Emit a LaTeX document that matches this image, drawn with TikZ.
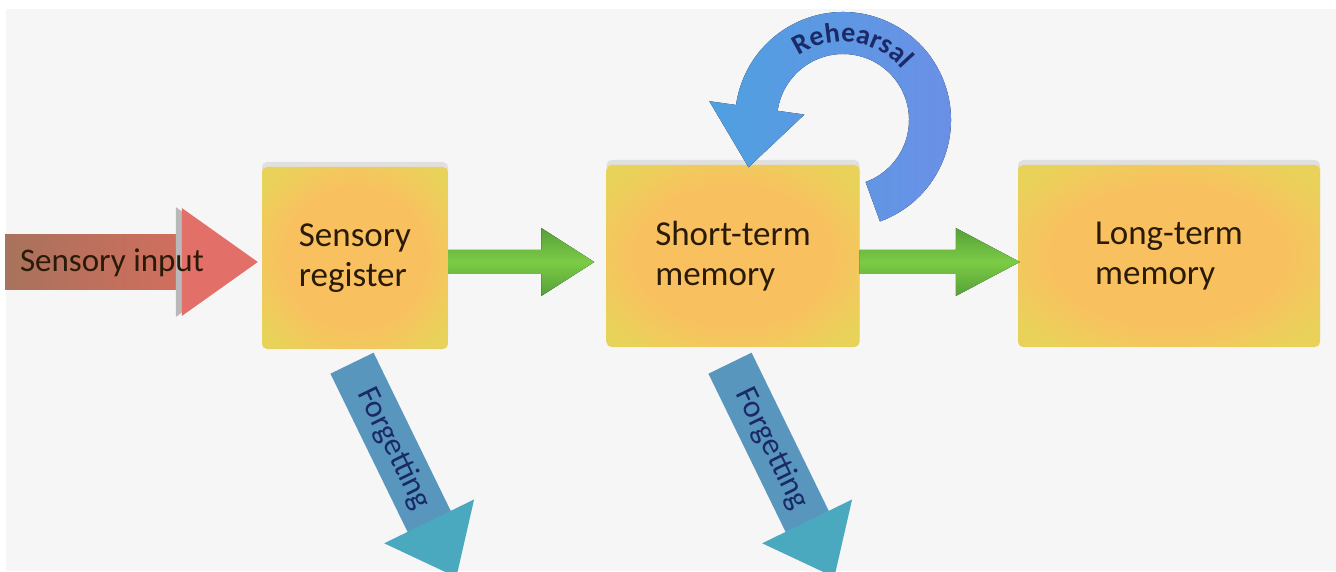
\documentclass[tikz,border=0pt]{standalone}
\usepackage{fontspec}
\setmainfont{Carlito}
\usetikzlibrary{calc,decorations.text,shadows}
\definecolor{bg}{HTML}{F6F6F6}
\definecolor{boxY}{HTML}{E9D25A}
\definecolor{boxO}{HTML}{F9C060}
\definecolor{inBody}{HTML}{A8725C}
\definecolor{inBodyR}{HTML}{D46E5E}
\definecolor{inHead}{HTML}{E27068}
\definecolor{grn}{HTML}{55A03A}
\definecolor{grnL}{HTML}{7CCB45}
\definecolor{bluL}{HTML}{4FA0E0}
\definecolor{bluR}{HTML}{6C8FE6}
\definecolor{tealH}{HTML}{4AA9BE}
\definecolor{tealB}{HTML}{5896BE}
\definecolor{navy}{HTML}{1B2A66}
\definecolor{txt}{HTML}{2A1A08}
\pgfdeclareradialshading{boxsh}{\pgfpoint{0bp}{0bp}}{color(0bp)=(boxO); color(19bp)=(boxO); color(31bp)=(boxY); color(50bp)=(boxY)}
\tikzset{
  membox/.style={rectangle, rounded corners=5pt, shading=boxsh,
    minimum height=182pt, text=txt, font=\fontsize{35}{40}\selectfont, align=left,
    drop shadow={shadow xshift=0pt, shadow yshift=5pt, opacity=0.18}},
  grnarrow/.style={top color=grn, bottom color=grn, middle color=grnL},
  forgbody/.style={fill=tealB},
  forghead/.style={fill=tealH},
  forgtext/.style={text=navy, font=\fontsize{32}{34}\selectfont},
  intext/.style={text=txt, font=\fontsize{33}{36}\selectfont},
}
\begin{document}
\begin{tikzpicture}[x=1pt,y=1pt]
\useasboundingbox (0,0) rectangle (1336,571);
\fill[white] (0,0) rectangle (1336,571);
\fill[bg] (6,0) rectangle (1336,562);

% boxes
\node[membox, minimum width=186pt] (sr) at (355,313) {Sensory\\register};
\node[membox, minimum width=253pt] (stm) at (733,315) {Short-term\\memory};
\node[membox, minimum width=302pt] (ltm) at (1169,315) {Long-term\\memory};

% sensory input arrow
\coordinate (inTail) at (5,308);
\coordinate (inTip) at ([shift={(-4pt,-4pt)}]sr.west);
\fill[left color=inBody, right color=inBodyR] ($(inTail)+(0,-27)$) rectangle ($(inTip)+(-66,27)$);
\fill[gray!55] ($(inTip)+(-82,-55)$) -- ($(inTip)+(-6,0)$) -- ($(inTip)+(-82,55)$) -- cycle;
\fill[inHead] ($(inTip)+(-76,-54)$) -- (inTip) -- ($(inTip)+(-76,54)$) -- cycle;
\node[intext] (si) at (112,308) {Sensory input};

% green arrows
\coordinate (g1s) at ([yshift=-4pt]sr.east);
\coordinate (g1e) at ([yshift=-6pt]stm.west);
\fill[grnarrow] ($(g1s)+(0,12)$) -- ($(g1e)+(-65,12)$) -- ($(g1e)+(-65,34)$) -- ($(g1e)+(-12,0)$)
  -- ($(g1e)+(-65,-34)$) -- ($(g1e)+(-65,-12)$) -- ($(g1s)+(0,-12)$) -- cycle;
\coordinate (g2s) at ([yshift=-6pt]stm.east);
\coordinate (g2e) at ([yshift=-6pt]ltm.west);
\fill[grnarrow] ($(g2s)+(0,12)$) -- ($(g2e)+(-62,12)$) -- ($(g2e)+(-62,34)$) -- ($(g2e)+(2,0)$)
  -- ($(g2e)+(-62,-34)$) -- ($(g2e)+(-62,-12)$) -- ($(g2s)+(0,-12)$) -- cycle;

% rehearsal loop
\coordinate (c) at (843,451);
\fill[left color=bluL, right color=bluR]
  ($(c)+(-70:108)$) arc[start angle=-70, end angle=172, radius=108]
  -- ($(c)+(172:135)$) -- ($(c)+(172:87)+(262:60)$) -- ($(c)+(172:39)$)
  -- ($(c)+(172:66)$) arc[start angle=172, end angle=-70, radius=66] -- cycle;
\path[decorate, decoration={text along path, text align=center,
  text={|\color{navy}\bfseries\fontsize{28}{30}\selectfont|Rehearsal}}]
  ($(c)+(150:78)$) arc[start angle=150, end angle=15, radius=78];

% forgetting arrows
\coordinate (f1) at ([shift={(-3pt,-14pt)}]sr.south);
\coordinate (f2) at ([shift={(-3pt,-16pt)}]stm.south);
\begin{scope}[shift={(f1)}, rotate=-64]
  \fill[forgbody] (0,-24) rectangle (180,24);
  \fill[forghead] (176,-50) -- (238,0) -- (176,50) -- cycle;
  \node[forgtext, rotate=-64] (fg1) at (95,0) {Forgetting};
\end{scope}
\begin{scope}[shift={(f2)}, rotate=-64]
  \fill[forgbody] (0,-24) rectangle (180,24);
  \fill[forghead] (176,-50) -- (238,0) -- (176,50) -- cycle;
  \node[forgtext, rotate=-64] (fg2) at (95,0) {Forgetting};
\end{scope}
\end{tikzpicture}
\end{document}
